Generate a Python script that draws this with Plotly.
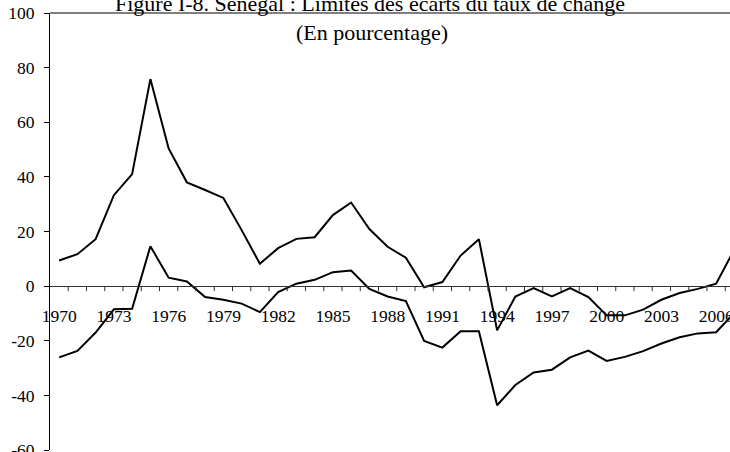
import plotly.graph_objects as go

years = list(range(1970, 2008))
upper = [9.4, 11.7, 17.2, 33.3, 41.0, 75.8, 50.4, 38.0, 35.2, 32.3,
         20.5, 8.2, 13.9, 17.3, 17.9, 26.0, 30.6, 20.9, 14.4, 10.4,
         -0.4, 1.5, 11.2, 17.2, -16.2, -3.8, -0.7, -3.8, -0.7, -4.0,
         -10.7, -10.7, -8.6, -5.0, -2.5, -1.0, 0.9, 13.4]
lower = [-26.1, -23.7, -17.0, -8.5, -8.3, 14.6, 3.1, 1.7, -4.0, -5.0,
         -6.4, -9.5, -2.2, 0.9, 2.3, 5.1, 5.7, -1.0, -3.8, -5.5,
         -20.1, -22.5, -16.5, -16.5, -43.6, -36.2, -31.6, -30.6, -26.1, -23.6,
         -27.4, -25.9, -23.8, -21.0, -18.7, -17.3, -16.9, -9.8]
xlabels = list(range(1970, 2007, 3))
yticks = list(range(-60, 101, 20))

title1 = "Figure I-8. Sénégal : Limites des écarts du taux de change"
title2 = "(En pourcentage)"

FONT = "Liberation Serif"
FS = 17.5

W, H = 730, 452
ml, mr, mt, mb = 50, 0, 13, 2
PH = H - mt - mb
px_per_year = 18.25
xr = [1969.5, 1969.5 + (W - ml - mr) / px_per_year]
yr = [-60, 100]
zero_pos = (0 - yr[0]) / (yr[1] - yr[0])
tick_units = 5 * (yr[1] - yr[0]) / PH  # 5 px tick marks below the category axis

fig = go.Figure()
fig.add_trace(go.Scatter(x=years, y=upper, mode="lines",
                         line=dict(color="black", width=2), showlegend=False))
fig.add_trace(go.Scatter(x=years, y=lower, mode="lines",
                         line=dict(color="black", width=2), showlegend=False))
# category-axis tick marks between years, hanging below the zero line
tick_x = [y + 0.5 for y in years]
fig.add_trace(go.Scatter(
    x=tick_x, y=[0] * len(tick_x), mode="markers",
    marker=dict(size=1, color="rgba(0,0,0,0)"),
    error_y=dict(type="data", symmetric=False, array=[0] * len(tick_x),
                 arrayminus=[tick_units] * len(tick_x), width=0,
                 thickness=1, color="#333333"),
    showlegend=False, hoverinfo="skip"))

fig.update_layout(
    width=W, height=H,
    margin=dict(l=ml, r=mr, t=mt, b=mb, autoexpand=False),
    plot_bgcolor="white", paper_bgcolor="white",
    font=dict(family=FONT, size=FS, color="black"),
    xaxis=dict(
        range=xr, anchor="free", position=zero_pos, automargin=False,
        showgrid=False, zeroline=False,
        showline=True, linecolor="#333333", linewidth=1,
        tickmode="array", tickvals=xlabels, ticktext=[str(v) for v in xlabels],
        ticks="", ticklabelstandoff=14, ticklabeloverflow="allow",
        tickfont=dict(family=FONT, size=FS, color="black"),
    ),
    yaxis=dict(
        range=yr, showgrid=False, automargin=False, domain=[0, 1],
        zeroline=True, zerolinecolor="#333333", zerolinewidth=1,
        showline=True, linecolor="black", linewidth=1,
        tickmode="array", tickvals=yticks,
        ticktext=[str(v) for v in yticks],
        ticks="outside", ticklen=5, tickcolor="black",
        ticklabelstandoff=6, ticklabeloverflow="allow",
        tickfont=dict(family=FONT, size=FS, color="black"),
    ),
    shapes=[dict(type="line", xref="paper", yref="paper", x0=0, x1=1, y0=1, y1=1,
                 line=dict(color="black", width=1))],
    annotations=[
        dict(text=title1, xref="paper", yref="paper", x=(370 - ml) / (W - ml - mr),
             y=1 + (mt - 4) / PH, yanchor="middle", showarrow=False,
             font=dict(family=FONT, size=22, color="black")),
        dict(text=title2, xref="paper", yref="paper", x=(372 - ml) / (W - ml - mr),
             y=1 - (32.5 - mt) / PH, yanchor="middle", showarrow=False,
             font=dict(family=FONT, size=22, color="black")),
    ],
)

fig.write_html("out.html", config={"displayModeBar": False},
               post_script="document.body.style.margin='0';document.body.style.overflow='hidden';")
